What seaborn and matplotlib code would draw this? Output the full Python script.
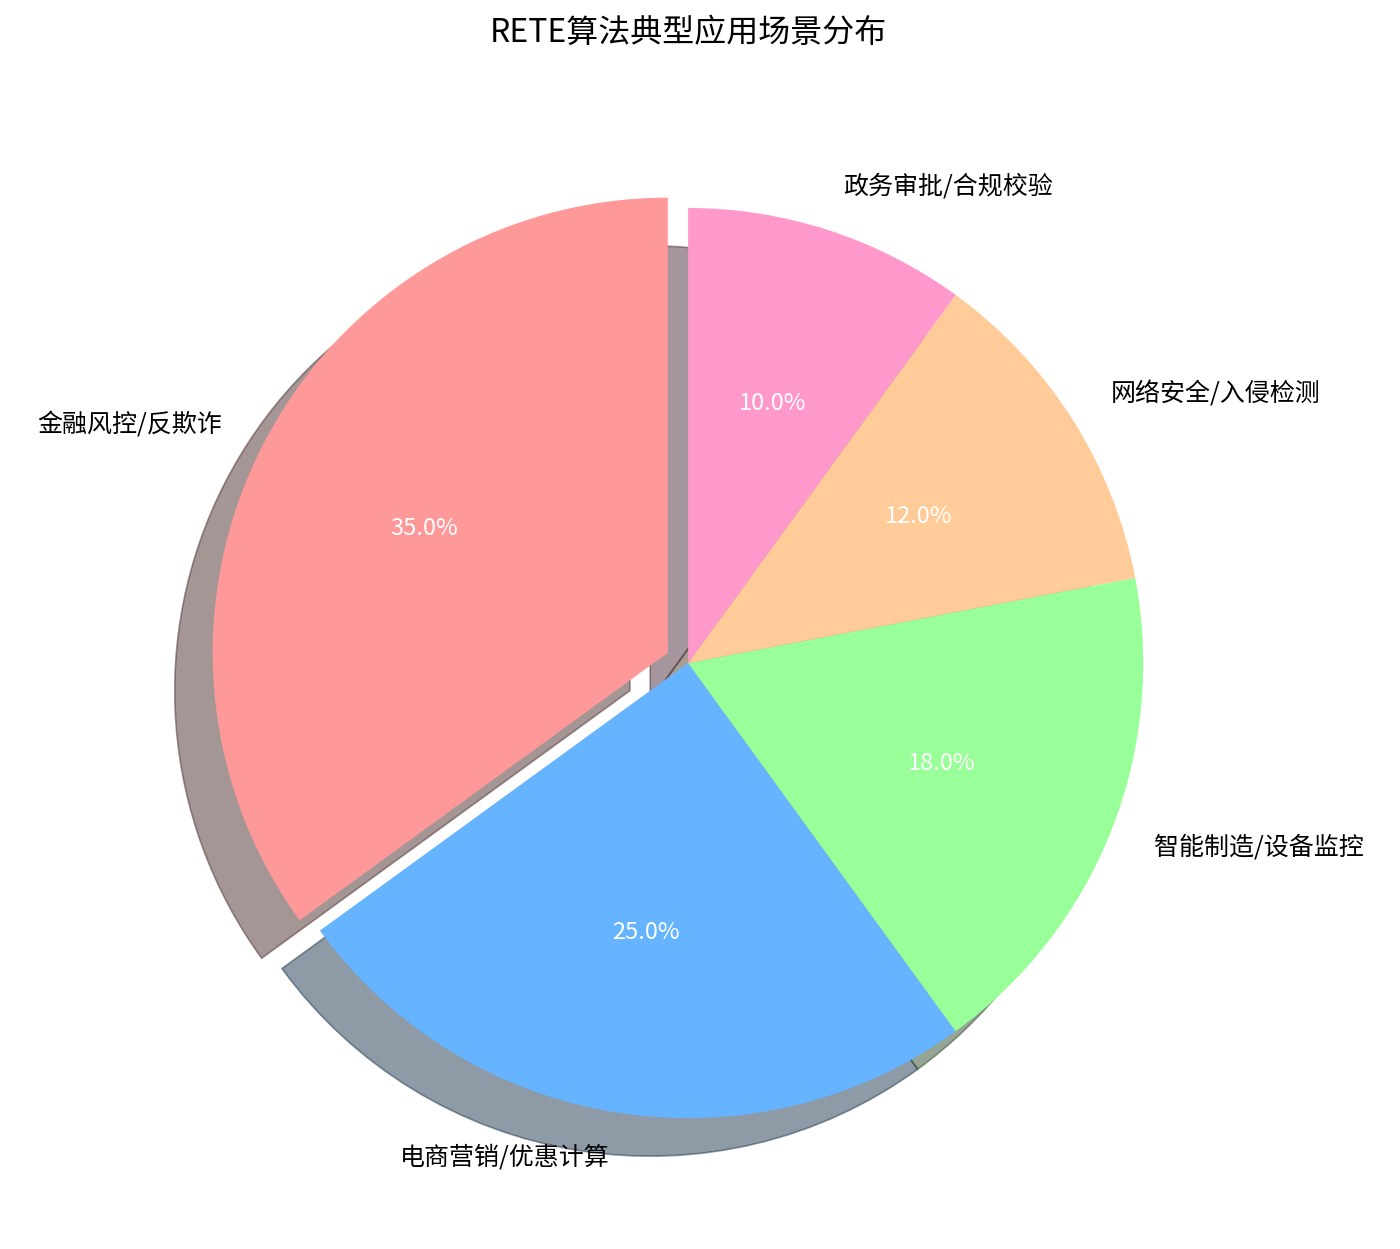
import matplotlib
matplotlib.use("Agg")
import matplotlib.pyplot as plt
import seaborn as sns

sns.set_theme(style="white")
plt.rcParams['font.family'] = ['Noto Sans CJK SC', 'DejaVu Sans']
plt.rcParams['text.color'] = 'black'

labels = ['金融风控/反欺诈', '电商营销/优惠计算', '智能制造/设备监控', '网络安全/入侵检测', '政务审批/合规校验']
values = [35, 25, 18, 12, 10]
colors = ['#ff9999', '#66b3ff', '#99ff99', '#ffcc99', '#ff99cc']
explode = [0.05, 0, 0, 0, 0]
title = 'RETE算法典型应用场景分布'

fig = plt.figure(figsize=(14, 12.49), dpi=100)
ax = fig.add_axes([0.085, 0.0136, 0.813, 0.911])
wedges, texts, autotexts = ax.pie(
    values, labels=labels, colors=colors, explode=explode,
    autopct='%1.1f%%', startangle=90, counterclock=True,
    shadow={'ox': -0.06, 'oy': -0.06, 'linewidth': 1.2},
    wedgeprops={'linewidth': 0, 'edgecolor': 'none'},
    textprops={'fontsize': 17, 'color': 'black'},
)
for t in texts:
    t.set_fontsize(18)
    t.set_color('black')
for t in autotexts:
    t.set_color('white')
    t.set_fontsize(17)
ax.set_aspect('equal')
ax.set_title(title, fontsize=23, pad=38, color='black')
fig.savefig('out.png', dpi=100)
